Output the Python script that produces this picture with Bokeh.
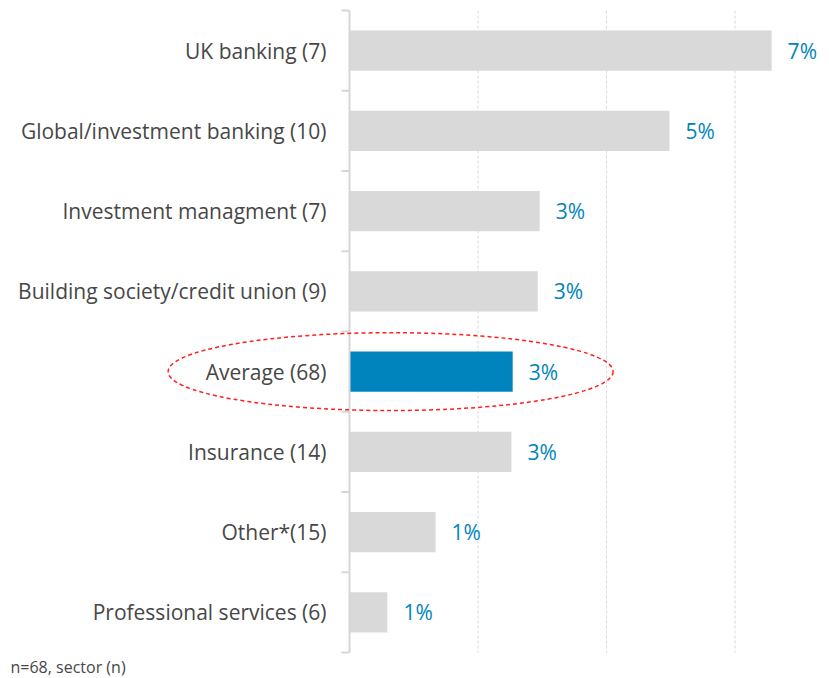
import numpy as np
from bokeh.plotting import figure
from bokeh.models import Range1d, Label
from bokeh.embed import file_html
from bokeh.resources import INLINE
from bokeh.core.properties import value

categories = ["UK banking (7)", "Global/investment banking (10)", "Investment managment (7)",
              "Building society/credit union (9)", "Average (68)", "Insurance (14)",
              "Other*(15)", "Professional services (6)"]
values = [6.57, 4.98, 2.96, 2.93, 2.54, 2.52, 1.34, 0.59]
value_labels = ["7%", "5%", "3%", "3%", "3%", "3%", "1%", "1%"]
highlight = "Average (68)"
grid_ticks = [2, 4, 6]
footnote = "n=68, sector (n)"

FONT = "Open Sans"
GRAY_BAR = "#D9D9D9"
AXIS_GRAY = "#D6D6D6"
BLUE = "#0084BD"
TEXT = "#474747"

W, H = 829, 678
AXIS_PX, TOP_PX = 349, 10       # where the value 0 and the first row start on the canvas
PX_PER_X, PX_PER_ROW = 64.25, 80.25

n = len(categories)
centers = [i + 0.5 for i in range(n)]
bounds = list(range(n + 1))
colors = [BLUE if c == highlight else GRAY_BAR for c in categories]

p = figure(width=W, height=H,
           x_range=Range1d(-AXIS_PX / PX_PER_X, (W - AXIS_PX) / PX_PER_X),
           y_range=Range1d((H - TOP_PX) / PX_PER_ROW, -TOP_PX / PX_PER_ROW),
           x_axis_location=None, y_axis_location=None,
           toolbar_location=None, output_backend="svg",
           min_border=0)
p.outline_line_color = None
p.grid.visible = False

# vertical dashed gridlines
p.segment(x0=grid_ticks, y0=0, x1=grid_ticks, y1=n, line_color="#D9D9D9",
          line_dash="3 2", line_width=1)

# bars and value labels
p.hbar(y=centers, left=0, right=values, height=0.5, fill_color=colors, line_color=None)
p.text(x=values, y=centers, text=value_labels, x_offset=16, text_baseline="middle",
       text_align="left", text_font=value(FONT), text_font_size="21px", text_color=BLUE)

# category axis: line, ticks between categories, labels
p.segment(x0=0, y0=0, x1=0, y1=n, line_color=AXIS_GRAY, line_width=2)
p.ray(x=[0] * len(bounds), y=bounds, length=8, length_units="screen", angle=np.pi,
      line_color=AXIS_GRAY, line_width=2)
p.text(x=[0] * n, y=centers, text=categories, x_offset=-23, text_align="right",
       text_baseline="middle", text_font=value(FONT), text_font_size="21px",
       text_color=TEXT)

# dashed ellipse highlighting the average row
hi = categories.index(highlight)
p.ellipse(x=[0.64], y=[centers[hi]], width=[445 / PX_PER_X], height=[0.97],
          fill_alpha=0, line_color="#FF2020", line_dash="4 3", line_width=1.5)

p.add_layout(Label(x=10, y=1, x_units="screen", y_units="screen", text=footnote,
                   text_baseline="bottom", text_font=FONT, text_font_size="16px",
                   text_color=TEXT))

open("out.html", "w").write(file_html(p, INLINE))
